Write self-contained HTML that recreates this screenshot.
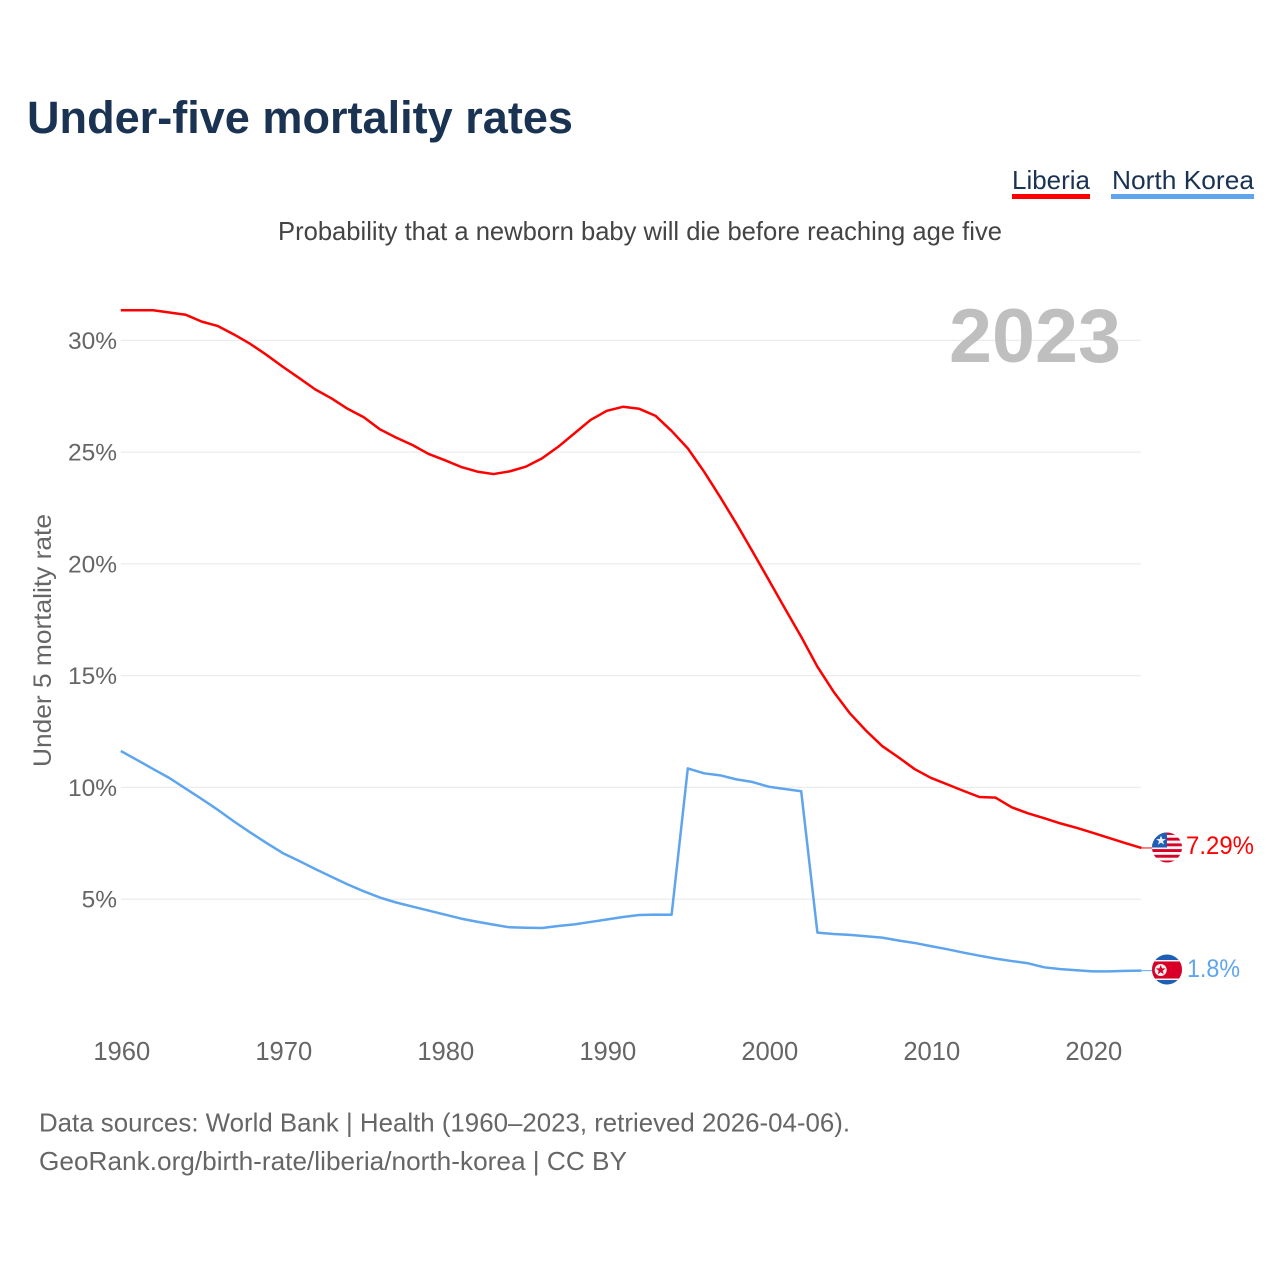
<!DOCTYPE html>
<html lang="en">
<head>
<meta charset="utf-8">
<title>Under-five mortality rates</title>
<style>
html,body{margin:0;padding:0;background:#fff;width:1280px;height:1280px;overflow:hidden}
svg{display:block;font-family:"Liberation Sans",sans-serif}
</style>
</head>
<body>
<svg id="chart" xmlns="http://www.w3.org/2000/svg" width="1280" height="1280" viewBox="0 0 1280 1280">
  <rect x="0" y="0" width="1280" height="1280" fill="#fff"/>
  <text x="27" y="133" font-size="45" font-weight="700" fill="#1a3353" textLength="546" lengthAdjust="spacingAndGlyphs">Under-five mortality rates</text>

  <g>
    <text x="1012" y="189" font-size="26" fill="#1a3353" textLength="78" lengthAdjust="spacingAndGlyphs">Liberia</text>
    <rect x="1012" y="194" width="78" height="5" fill="#ff0000"/>
  </g>
  <g>
    <text x="1112" y="189" font-size="26" fill="#1a3353" textLength="142" lengthAdjust="spacingAndGlyphs">North Korea</text>
    <rect x="1111" y="194" width="143" height="5" fill="#5ea5ee"/>
  </g>

  <text x="278" y="240" font-size="26" fill="#444" textLength="724" lengthAdjust="spacingAndGlyphs">Probability that a newborn baby will die before reaching age five</text>

  <g id="grid"></g>
  <g id="yticks"></g>
  <g id="xticks"></g>

  <text transform="translate(51,767) rotate(-90)" font-size="25" fill="#666" textLength="253" lengthAdjust="spacingAndGlyphs">Under 5 mortality rate</text>

  <text x="949" y="362" font-size="76" font-weight="700" fill="#bfbfbf" textLength="172" lengthAdjust="spacingAndGlyphs">2023</text>

  <g id="series"></g>

  <defs>
    <clipPath id="clip-lr"><circle cx="1167" cy="847.5" r="15"/></clipPath>
    <clipPath id="clip-kp"><circle cx="1167" cy="969.5" r="15"/></clipPath>
  </defs>
  <g clip-path="url(#clip-lr)">
    <rect x="1150" y="830" width="34" height="36" fill="#f7f7f7"/>
    <rect x="1150" y="832" width="34" height="2.9" fill="#d80027"/>
    <rect x="1150" y="837.7" width="34" height="2.9" fill="#d80027"/>
    <rect x="1150" y="843.4" width="34" height="2.9" fill="#d80027"/>
    <rect x="1150" y="849.1" width="34" height="2.9" fill="#d80027"/>
    <rect x="1150" y="854.8" width="34" height="2.9" fill="#d80027"/>
    <rect x="1150" y="860.5" width="34" height="2.9" fill="#d80027"/>
    <rect x="1150" y="830" width="17" height="17.5" fill="#1d5fb4"/>
    <polygon points="1161,835.5 1162.3,839 1165.8,839 1163,841.2 1164,844.6 1161,842.6 1158,844.6 1159,841.2 1156.2,839 1159.7,839" fill="#f0f0f0"/>
  </g>
  <g clip-path="url(#clip-kp)">
    <rect x="1150" y="952" width="34" height="36" fill="#1d5fb4"/>
    <rect x="1150" y="960" width="34" height="20" fill="#f0f0f0"/>
    <rect x="1150" y="961.5" width="34" height="17" fill="#d80027"/>
    <circle cx="1160.7" cy="970" r="6" fill="#f0f0f0"/>
    <polygon points="1160.7,965 1162,968.4 1165.5,968.4 1162.7,970.7 1163.7,974.2 1160.7,972.2 1157.7,974.2 1158.7,970.7 1155.9,968.4 1159.4,968.4" fill="#d80027"/>
  </g>

  <text x="1186" y="854" font-size="25" fill="#ff0000" textLength="68" lengthAdjust="spacingAndGlyphs">7.29%</text>
  <text x="1187" y="977" font-size="25" fill="#5ea5ee" textLength="53" lengthAdjust="spacingAndGlyphs">1.8%</text>

  <text x="39" y="1131.5" font-size="26" fill="#666" textLength="811" lengthAdjust="spacingAndGlyphs">Data sources: World Bank | Health (1960–2023, retrieved 2026-04-06).</text>
  <text x="39" y="1170" font-size="26" fill="#666" textLength="588" lengthAdjust="spacingAndGlyphs">GeoRank.org/birth-rate/liberia/north-korea | CC BY</text>
</svg>
<script>
const firstYear = 1960;
const xTickYears = [1960, 1970, 1980, 1990, 2000, 2010, 2020];
const yTickValues = [5, 10, 15, 20, 25, 30];
const liberia = [31.35,31.35,31.35,31.25,31.15,30.84,30.64,30.26,29.84,29.35,
  28.82,28.32,27.81,27.41,26.94,26.56,26.02,25.65,25.32,24.92,
  24.64,24.34,24.13,24.02,24.14,24.35,24.72,25.24,25.84,26.44,
  26.85,27.03,26.94,26.63,25.95,25.17,24.13,22.99,21.80,20.55,
  19.28,18.00,16.74,15.40,14.28,13.32,12.54,11.85,11.35,10.82,
  10.43,10.14,9.85,9.57,9.54,9.11,8.84,8.62,8.39,8.19,
  7.97,7.74,7.51,7.29];
const northKorea = [11.63,11.23,10.82,10.42,9.95,9.48,8.99,8.47,7.98,7.51,
  7.06,6.71,6.35,6.00,5.66,5.35,5.07,4.85,4.67,4.49,
  4.31,4.13,3.99,3.86,3.74,3.72,3.71,3.80,3.87,3.98,
  4.09,4.20,4.29,4.31,4.30,10.85,10.63,10.54,10.36,10.24,
  10.03,9.93,9.83,3.50,3.44,3.40,3.34,3.28,3.15,3.04,
  2.90,2.76,2.61,2.47,2.34,2.23,2.13,1.95,1.87,1.82,
  1.77,1.77,1.79,1.80];

const NS = 'http://www.w3.org/2000/svg';
function xScale(year) { return 120.8 + (year - firstYear) * 16.2; }
function yScale(v) { return 1010.9 - v * 22.35; }
function make(tag, attrs, parent) {
  const el = document.createElementNS(NS, tag);
  for (const k in attrs) el.setAttribute(k, attrs[k]);
  parent.appendChild(el);
  return el;
}
const grid = document.getElementById('grid');
const yt = document.getElementById('yticks');
const xt = document.getElementById('xticks');
const series = document.getElementById('series');

yTickValues.forEach(function (v) {
  const line = make('line', {x1: 121, x2: 1141, y1: yScale(v), y2: yScale(v), stroke: '#ececec', 'stroke-width': 1.2}, grid);
  
  
  const t = make('text', {x: 117, y: yScale(v) + 8.5, 'text-anchor': 'end', 'font-size': 24.5, fill: '#666'}, yt);
  
  
  t.textContent = v + '%';
});
xTickYears.forEach(function (y) {
  const t = make('text', {x: xScale(y) + 1, y: 1060, 'text-anchor': 'middle', 'font-size': 25.6, fill: '#666'}, xt);
  
  
  t.textContent = y;
});
function pathFor(values) {
  return values.map(function (v, i) {
    return (i ? 'L' : 'M') + xScale(firstYear + i).toFixed(2) + ' ' + yScale(v).toFixed(2);
  }).join(' ');
}
const lineLR = make('path', {d: pathFor(liberia), fill: 'none', stroke: '#ff0000', 'stroke-width': 2.5, 'stroke-linejoin': 'round'}, series);


const lineKP = make('path', {d: pathFor(northKorea), fill: 'none', stroke: '#5ea5ee', 'stroke-width': 2.5, 'stroke-linejoin': 'round'}, series);



const lastX = xScale(firstYear + liberia.length - 1);
const connLR = make('line', {x1: lastX, x2: 1152, y1: yScale(liberia[liberia.length - 1]), y2: yScale(liberia[liberia.length - 1]), stroke: '#ff0000', 'stroke-width': 1}, series);


const connKP = make('line', {x1: lastX, x2: 1152, y1: yScale(northKorea[northKorea.length - 1]), y2: yScale(northKorea[northKorea.length - 1]), stroke: '#5ea5ee', 'stroke-width': 1}, series);


</script>
</body>
</html>
